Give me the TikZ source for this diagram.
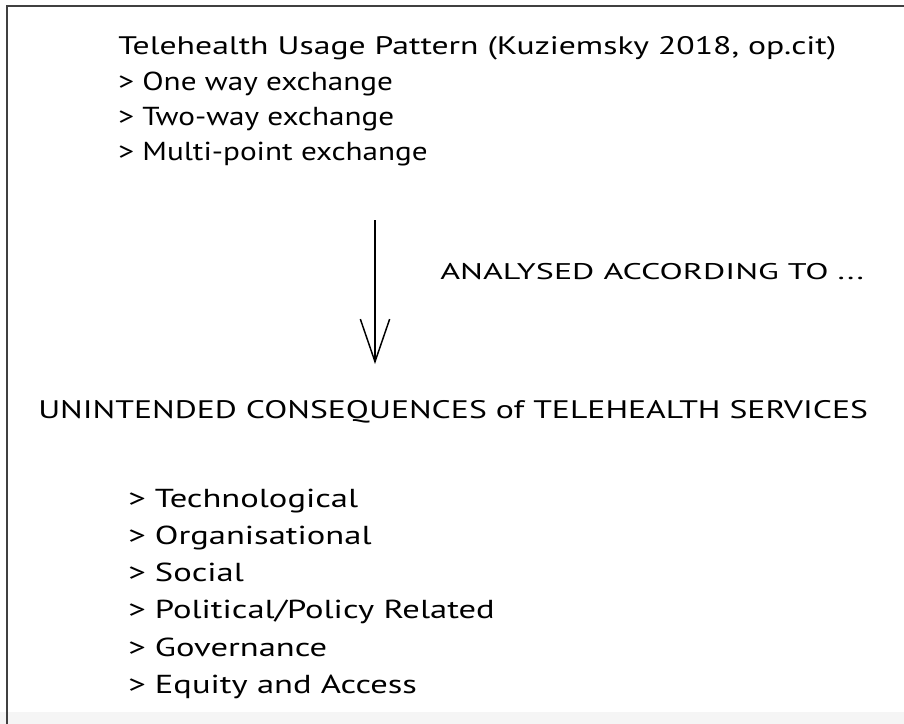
\documentclass[tikz,border=0pt]{standalone}
\usepackage{fontspec}
\setmainfont{PT Sans}[FakeStretch=1.15]
\newfontfamily\listfont{PT Sans}[FakeStretch=1.2]
\newfontfamily\widefont{PT Sans}[FakeStretch=1.33]
\newfontfamily\notefont{PT Sans}[FakeStretch=1.5]
\usetikzlibrary{arrows.meta}

\begin{document}
\begin{tikzpicture}[x=0.75pt,y=-0.75pt,
    entry/.style ={anchor=base west, inner sep=0pt, font=\listfont\fontsize{19.5}{22}\selectfont},
    heading/.style ={anchor=base west, inner sep=0pt, font=\widefont\fontsize{19}{22}\selectfont},
    aspect/.style ={anchor=base west, inner sep=0pt, font=\widefont\fontsize{19.5}{22}\selectfont},
    note/.style ={anchor=base west, inner sep=0pt, font=\notefont\fontsize{17}{19}\selectfont}]
   \useasboundingbox (0,0) rectangle (904,724);
   % page frame and grey strip at the foot
   \fill[black!4] (0,712) rectangle (904,724);
   \draw[black!75, line width=1.2pt] (7,724) -- (7,6) -- (904,6);

   \node[heading] (pattern) at (118,55)  {Telehealth Usage Pattern (Kuziemsky 2018, op.cit)};
   \node[entry] (oneway) at (118,91)  {> One way exchange};
   \node[entry] (twoway) at (118,126)  {> Two-way exchange};
   \node[entry] (multipoint) at (118,161)  {> Multi-point exchange};

   \coordinate (arrowtop) at (375,220);
   \coordinate (arrowtip) at (375,364);
   \draw[line width=1.3pt, -{Straight Barb[length=32pt, width=22pt, line width=1.1pt]}] (arrowtop) to (arrowtip);

   \node[note] (analysed) at (440,279)  {ANALYSED ACCORDING TO ...};

   \node[heading] (consequences) at (38,418)  {UNINTENDED CONSEQUENCES of TELEHEALTH SERVICES};

   \node[aspect] (technological) at (128,507)  {> Technological};
   \node[aspect] (organisational) at (128,544)  {> Organisational};
   \node[aspect] (social) at (128,581)  {> Social};
   \node[aspect] (policy) at (128,618)  {> Political/Policy Related};
   \node[aspect] (governance) at (128,656)  {> Governance};
   \node[aspect] (equity) at (128,693)  {> Equity and Access};
 \end{tikzpicture}
\end{document}
